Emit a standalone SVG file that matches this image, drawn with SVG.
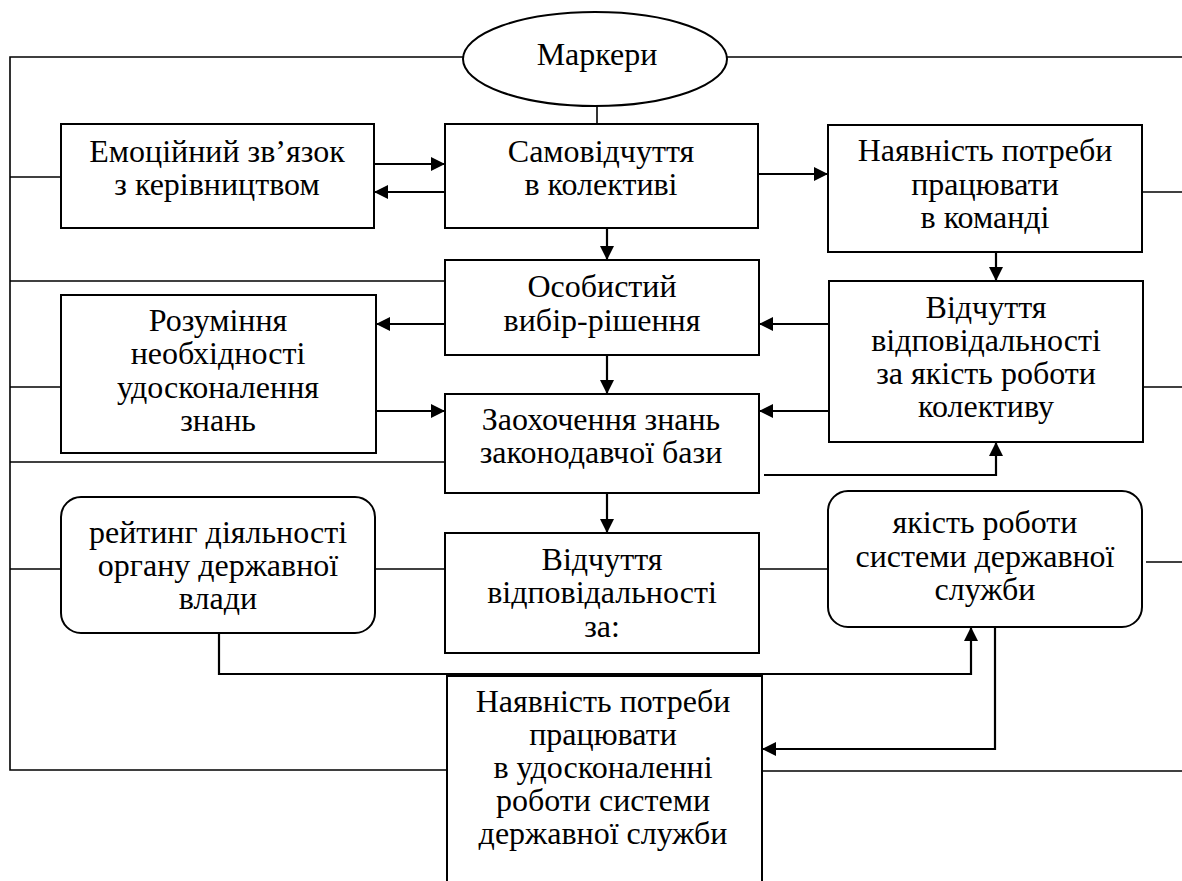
<svg xmlns="http://www.w3.org/2000/svg" width="1182" height="881" viewBox="0 0 1182 881">
<defs>
<marker id="ah" markerUnits="userSpaceOnUse" markerWidth="14" markerHeight="14" refX="14" refY="7" orient="auto">
<path d="M0,0 L14,7 L0,14 z" fill="#000"/>
</marker>
<style>
.box{fill:#fff;stroke:#000;stroke-width:2}
.t{font-family:"Liberation Serif","Times New Roman",serif;font-size:32px;text-anchor:middle;fill:#000}
.ln{fill:none;stroke:#000;stroke-width:1.6}
.ar{fill:none;stroke:#000;stroke-width:2.2;marker-end:url(#ah)}
</style>
</defs>
<rect width="1182" height="881" fill="#fff"/>
<g id="connectors">
<path class="ln" d="M463,57 H10 V770 H447"/>
<path class="ln" d="M727,57 H1182"/>
<path class="ln" d="M10,177 H61"/>
<path class="ln" d="M10,281 H445"/>
<path class="ln" d="M10,387 H61"/>
<path class="ln" d="M10,462 H445"/>
<path class="ln" d="M10,569 H61"/>
<path class="ln" d="M1142,192 H1182"/>
<path class="ln" d="M1143,387 H1182"/>
<path class="ln" d="M1146,562 H1182"/>
<path class="ln" d="M762,771 H1182"/>
<path class="ln" d="M597,106 V124"/>
<path class="ln" d="M375,569 H445"/>
<path class="ln" d="M759,569 H828"/>
<path class="ar" d="M374,164 H445"/>
<path class="ar" d="M445,192 H374"/>
<path class="ar" d="M758,174 H828"/>
<path class="ar" d="M607,228 V260"/>
<path class="ar" d="M996,252 V281"/>
<path class="ar" d="M445,324 H376"/>
<path class="ar" d="M829,324 H759"/>
<path class="ar" d="M376,411 H445"/>
<path class="ar" d="M829,411 H759"/>
<path class="ar" d="M607,355 V394"/>
<path class="ar" d="M764,475 H996 V442"/>
<path class="ar" d="M607,493 V533"/>
<path class="ar" d="M219,633 V674 H971 V627"/>
<path class="ar" d="M995,627 V749 H762"/>
</g>
<g id="markery">
<ellipse class="box" cx="595" cy="59" rx="132" ry="47"/>
<text class="t" x="597" y="65">Маркери</text>
</g>
<g id="emotsiynyi">
<rect class="box" x="61" y="124" width="313" height="104"/>
<text class="t" x="217" y="162">Емоційний зв’язок</text>
<text class="t" x="217" y="195">з керівництвом</text>
</g>
<g id="samovidchuttia">
<rect class="box" x="445" y="124" width="313" height="104"/>
<text class="t" x="601" y="162">Самовідчуття</text>
<text class="t" x="601" y="195">в колективі</text>
</g>
<g id="naiavnist-komanda">
<rect class="box" x="828" y="125" width="314" height="127"/>
<text class="t" x="985" y="161">Наявність потреби</text>
<text class="t" x="985" y="195">працювати</text>
<text class="t" x="985" y="228">в команді</text>
</g>
<g id="osobystyi">
<rect class="box" x="445" y="260" width="314" height="95"/>
<text class="t" x="602" y="297">Особистий</text>
<text class="t" x="602" y="331">вибір-рішення</text>
</g>
<g id="rozuminnia">
<rect class="box" x="61" y="295" width="315" height="158"/>
<text class="t" x="218" y="331">Розуміння</text>
<text class="t" x="218" y="364">необхідності</text>
<text class="t" x="218" y="398">удосконалення</text>
<text class="t" x="218" y="431">знань</text>
</g>
<g id="vidchuttia-kolektyv">
<rect class="box" x="829" y="281" width="314" height="161"/>
<text class="t" x="986" y="318">Відчуття</text>
<text class="t" x="986" y="351">відповідальності</text>
<text class="t" x="986" y="384">за якість роботи</text>
<text class="t" x="986" y="417">колективу</text>
</g>
<g id="zaokhochennia">
<rect class="box" x="445" y="394" width="314" height="99"/>
<text class="t" x="601" y="430">Заохочення знань</text>
<text class="t" x="601" y="463">законодавчої бази</text>
</g>
<g id="reitynh">
<rect class="box" x="61" y="497" width="314" height="136" rx="20" ry="20"/>
<text class="t" x="218" y="543">рейтинг діяльності</text>
<text class="t" x="218" y="576">органу державної</text>
<text class="t" x="218" y="609">влади</text>
</g>
<g id="vidchuttia-za">
<rect class="box" x="445" y="533" width="314" height="120"/>
<text class="t" x="602" y="570">Відчуття</text>
<text class="t" x="602" y="603">відповідальності</text>
<text class="t" x="602" y="637">за:</text>
</g>
<g id="yakist">
<rect class="box" x="828" y="491" width="314" height="136" rx="20" ry="20"/>
<text class="t" x="985" y="533">якість роботи</text>
<text class="t" x="985" y="567">системи державної</text>
<text class="t" x="985" y="600">служби</text>
</g>
<g id="naiavnist-udoskonalennia">
<rect class="box" x="447" y="676" width="315" height="230"/>
<text class="t" x="603" y="712">Наявність потреби</text>
<text class="t" x="603" y="745">працювати</text>
<text class="t" x="603" y="778">в удосконаленні</text>
<text class="t" x="603" y="811">роботи системи</text>
<text class="t" x="603" y="844">державної служби</text>
</g>
</svg>
